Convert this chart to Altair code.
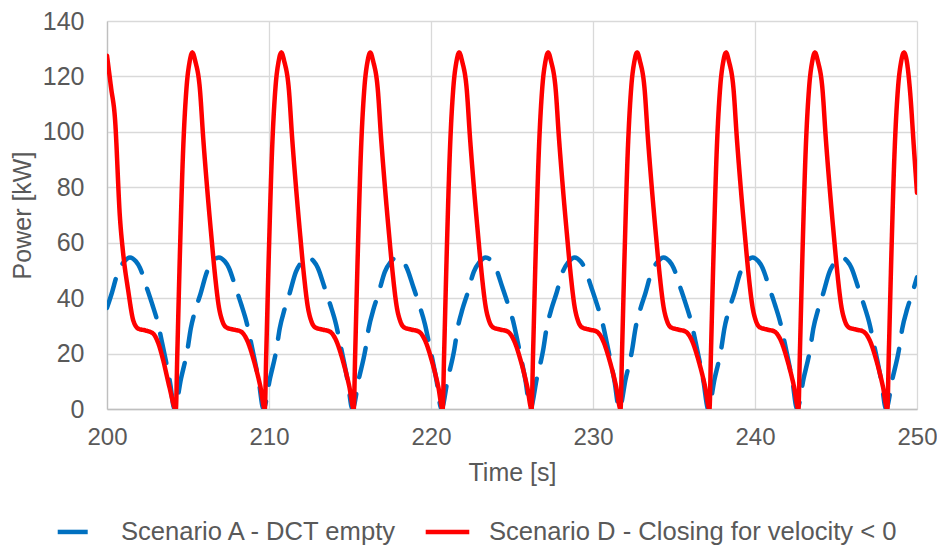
import altair as alt
import pandas as pd

# ---------------- data ----------------
series_names = ["Scenario A - DCT empty", "Scenario D - Closing for velocity < 0"]

blue_time = [
    200.00, 200.28, 200.68, 201.03, 201.42, 201.78, 202.03, 202.44, 202.78, 203.16, 203.38, 203.63, 203.88,
    204.17, 204.57, 204.97, 205.17, 205.47, 205.77, 206.17, 206.52, 206.91, 207.27, 207.52, 207.93, 208.27, 208.65, 208.87, 209.12, 209.37,
    209.66, 210.06, 210.46, 210.66, 210.96, 211.26, 211.66, 212.01, 212.40, 212.76, 213.01, 213.42, 213.76, 214.14, 214.36, 214.61, 214.86,
    215.15, 215.55, 215.95, 216.15, 216.45, 216.75, 217.15, 217.50, 217.89, 218.25, 218.50, 218.91, 219.25, 219.63, 219.85, 220.10, 220.35,
    220.64, 221.04, 221.44, 221.64, 221.94, 222.24, 222.64, 222.99, 223.38, 223.74, 223.99, 224.40, 224.74, 225.12, 225.34, 225.59, 225.84,
    226.13, 226.53, 226.93, 227.13, 227.43, 227.73, 228.13, 228.48, 228.87, 229.23, 229.48, 229.89, 230.23, 230.61, 230.83, 231.08, 231.33,
    231.62, 232.02, 232.42, 232.62, 232.92, 233.22, 233.62, 233.97, 234.36, 234.72, 234.97, 235.38, 235.72, 236.10, 236.32, 236.57, 236.82,
    237.11, 237.51, 237.91, 238.11, 238.41, 238.71, 239.11, 239.46, 239.85, 240.21, 240.46, 240.87, 241.21, 241.59, 241.81, 242.06, 242.31,
    242.60, 243.00, 243.40, 243.60, 243.90, 244.20, 244.60, 244.95, 245.34, 245.70, 245.95, 246.36, 246.70, 247.08, 247.30, 247.55, 247.80,
    248.09, 248.49, 248.89, 249.09, 249.39, 249.69, 250.00,
]
blue_power = [
    36.5, 41.5, 49.5, 53.0, 54.7, 53.3, 51.0, 44.0, 38.0, 30.5, 24.5, 17.5, 10.0,
    0.0, 11.0, 21.5, 29.0, 36.0, 41.5, 49.5, 53.0, 54.7, 53.3, 51.0, 44.0, 38.0, 30.5, 24.5, 17.5, 10.0,
    0.0, 11.0, 21.5, 29.0, 36.0, 41.5, 49.5, 53.0, 54.7, 53.3, 51.0, 44.0, 38.0, 30.5, 24.5, 17.5, 10.0,
    0.0, 11.0, 21.5, 29.0, 36.0, 41.5, 49.5, 53.0, 54.7, 53.3, 51.0, 44.0, 38.0, 30.5, 24.5, 17.5, 10.0,
    0.0, 11.0, 21.5, 29.0, 36.0, 41.5, 49.5, 53.0, 54.7, 53.3, 51.0, 44.0, 38.0, 30.5, 24.5, 17.5, 10.0,
    0.0, 11.0, 21.5, 29.0, 36.0, 41.5, 49.5, 53.0, 54.7, 53.3, 51.0, 44.0, 38.0, 30.5, 24.5, 17.5, 10.0,
    0.0, 11.0, 21.5, 29.0, 36.0, 41.5, 49.5, 53.0, 54.7, 53.3, 51.0, 44.0, 38.0, 30.5, 24.5, 17.5, 10.0,
    0.0, 11.0, 21.5, 29.0, 36.0, 41.5, 49.5, 53.0, 54.7, 53.3, 51.0, 44.0, 38.0, 30.5, 24.5, 17.5, 10.0,
    0.0, 11.0, 21.5, 29.0, 36.0, 41.5, 49.5, 53.0, 54.7, 53.3, 51.0, 44.0, 38.0, 30.5, 24.5, 17.5, 10.0,
    0.0, 11.0, 21.5, 29.0, 36.0, 41.5, 47.5,
]

red_time = [
    200.00, 200.25, 200.49, 200.80, 201.00, 201.31, 201.62, 201.93, 202.40, 202.85, 203.15, 203.47, 203.85,
    204.25, 204.34, 204.50, 204.69, 204.91, 205.10, 205.27, 205.45, 205.73, 205.94, 206.18, 206.45, 206.66, 206.91, 207.11, 207.35, 207.85, 208.25, 208.65, 209.06, 209.47,
    209.74, 209.83, 209.99, 210.18, 210.40, 210.59, 210.76, 210.94, 211.22, 211.43, 211.67, 211.94, 212.15, 212.40, 212.60, 212.84, 213.34, 213.74, 214.14, 214.55, 214.96,
    215.23, 215.32, 215.48, 215.67, 215.89, 216.08, 216.25, 216.43, 216.71, 216.92, 217.16, 217.43, 217.64, 217.89, 218.09, 218.33, 218.83, 219.23, 219.63, 220.04, 220.45,
    220.72, 220.81, 220.97, 221.16, 221.38, 221.57, 221.74, 221.92, 222.20, 222.41, 222.65, 222.92, 223.13, 223.38, 223.58, 223.82, 224.32, 224.72, 225.12, 225.53, 225.94,
    226.21, 226.30, 226.46, 226.65, 226.87, 227.06, 227.23, 227.41, 227.69, 227.90, 228.14, 228.41, 228.62, 228.87, 229.07, 229.31, 229.81, 230.21, 230.61, 231.02, 231.43,
    231.70, 231.79, 231.95, 232.14, 232.36, 232.55, 232.72, 232.90, 233.18, 233.39, 233.63, 233.90, 234.11, 234.36, 234.56, 234.80, 235.30, 235.70, 236.10, 236.51, 236.92,
    237.19, 237.28, 237.44, 237.63, 237.85, 238.04, 238.21, 238.39, 238.67, 238.88, 239.12, 239.39, 239.60, 239.85, 240.05, 240.29, 240.79, 241.19, 241.59, 242.00, 242.41,
    242.68, 242.77, 242.93, 243.12, 243.34, 243.53, 243.70, 243.88, 244.16, 244.37, 244.61, 244.88, 245.09, 245.34, 245.54, 245.78, 246.28, 246.68, 247.08, 247.49, 247.90,
    248.17, 248.26, 248.42, 248.61, 248.83, 249.02, 249.19, 249.37, 249.58, 249.80, 250.00,
]
red_power = [
    127.5, 116.0, 105.0, 69.0, 56.0, 42.7, 32.0, 29.0, 28.3, 27.2, 24.0, 17.6, 8.0,
    0.0, 20.0, 56.0, 92.0, 116.0, 125.3, 128.6, 125.5, 115.7, 97.7, 79.8, 61.8, 48.7, 36.7, 31.9, 29.5, 28.6, 28.0, 24.8, 17.6, 8.0,
    0.0, 20.0, 56.0, 92.0, 116.0, 125.3, 128.6, 125.5, 115.7, 97.7, 79.8, 61.8, 48.7, 36.7, 31.9, 29.5, 28.6, 28.0, 24.8, 17.6, 8.0,
    0.0, 20.0, 56.0, 92.0, 116.0, 125.3, 128.6, 125.5, 115.7, 97.7, 79.8, 61.8, 48.7, 36.7, 31.9, 29.5, 28.6, 28.0, 24.8, 17.6, 8.0,
    0.0, 20.0, 56.0, 92.0, 116.0, 125.3, 128.6, 125.5, 115.7, 97.7, 79.8, 61.8, 48.7, 36.7, 31.9, 29.5, 28.6, 28.0, 24.8, 17.6, 8.0,
    0.0, 20.0, 56.0, 92.0, 116.0, 125.3, 128.6, 125.5, 115.7, 97.7, 79.8, 61.8, 48.7, 36.7, 31.9, 29.5, 28.6, 28.0, 24.8, 17.6, 8.0,
    0.0, 20.0, 56.0, 92.0, 116.0, 125.3, 128.6, 125.5, 115.7, 97.7, 79.8, 61.8, 48.7, 36.7, 31.9, 29.5, 28.6, 28.0, 24.8, 17.6, 8.0,
    0.0, 20.0, 56.0, 92.0, 116.0, 125.3, 128.6, 125.5, 115.7, 97.7, 79.8, 61.8, 48.7, 36.7, 31.9, 29.5, 28.6, 28.0, 24.8, 17.6, 8.0,
    0.0, 20.0, 56.0, 92.0, 116.0, 125.3, 128.6, 125.5, 115.7, 97.7, 79.8, 61.8, 48.7, 36.7, 31.9, 29.5, 28.6, 28.0, 24.8, 17.6, 8.0,
    0.0, 20.0, 56.0, 92.0, 116.0, 125.3, 128.6, 125.5, 114.0, 95.0, 78.0,
]

x_ticks = [200, 210, 220, 230, 240, 250]
y_ticks = [0, 20, 40, 60, 80, 100, 120, 140]
series_colors = ["#0070C0", "#FF0000"]

# ---------------- build table ----------------
df = pd.concat([
    pd.DataFrame({"t": blue_time, "p": blue_power, "series": series_names[0], "k": 0}),
    pd.DataFrame({"t": red_time, "p": red_power, "series": series_names[1], "k": 1}),
], ignore_index=True)

FONT = "Liberation Sans"
GREY = "#595959"

legend_cfg = dict(title=None, orient="none", direction="horizontal", legendX=-52, legendY=486)

chart = alt.Chart(df).mark_line(
    strokeWidth=4.5, interpolate="monotone", strokeCap="round", strokeJoin="round", clip=True
).encode(
    x=alt.X("t:Q",
            scale=alt.Scale(domain=[200, 250], nice=False),
            axis=alt.Axis(values=x_ticks, title="Time [s]", format="d",
                          labelFlush=False, labelOverlap=False, labelFontSize=24,
                          titleY=71, titleBaseline="alphabetic")),
    y=alt.Y("p:Q",
            scale=alt.Scale(domain=[0, 140], nice=False),
            axis=alt.Axis(values=y_ticks, title="Power [kW]",
                          labelFlush=False, labelOverlap=False,
                          titleX=-85, titleBaseline="middle")),
    color=alt.Color("series:N",
                    scale=alt.Scale(domain=series_names, range=series_colors),
                    legend=alt.Legend(**legend_cfg)),
    strokeDash=alt.StrokeDash("series:N",
                              scale=alt.Scale(domain=series_names, range=[[30, 17], [1, 0]]),
                              legend=alt.Legend(**legend_cfg)),
    detail="series:N",
    order="k:Q",
).properties(
    width=810,
    height=388,
    autosize=alt.AutoSizeParams(type="none"),
    padding={"left": 99, "top": 13, "right": 20, "bottom": 137},
).configure_view(
    stroke=None
).configure_axis(
    labelFont=FONT, titleFont=FONT,
    labelFontSize=25, titleFontSize=25,
    labelColor=GREY, titleColor=GREY,
    titleFontWeight="normal",
    grid=True, gridColor="#D9D9D9", gridWidth=1.3,
    domainColor="#BFBFBF", domainWidth=1.3,
    ticks=False,
).configure_axisX(
    labelPadding=16,
).configure_axisY(
    labelPadding=23,
).configure_legend(
    labelFont=FONT, labelFontSize=25.6, labelColor=GREY, labelLimit=600,
    symbolType="stroke", symbolSize=1900, symbolStrokeWidth=4.5,
    labelOffset=17, columnPadding=17,
)

chart.save("out.html", embed_options={"renderer": "svg", "actions": False})
